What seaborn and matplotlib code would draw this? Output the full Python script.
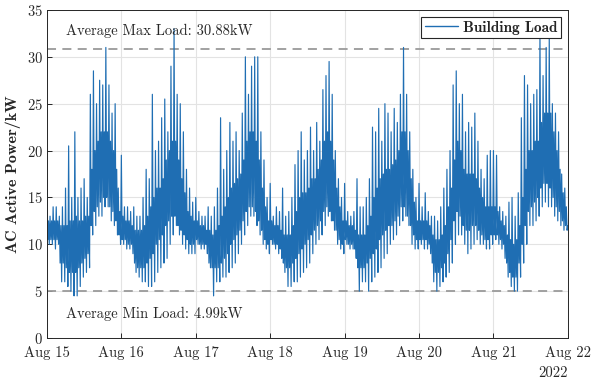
import pandas as pd
import matplotlib
matplotlib.use("Agg")
import matplotlib.pyplot as plt
import matplotlib.dates as mdates
import seaborn as sns

# hourly readings of the building load off the picture (kW):
# spike top, spike bottom, and the upper / lower edge of the dense core band
aug15_high = [17, 13, 14, 14, 13, 14, 16, 20.5, 15, 22, 15, 16, 17, 15, 26, 28.5, 25, 27.5, 27, 31, 27, 24, 25, 16]
aug15_low = [10, 10, 9.5, 10, 6, 6, 5.5, 5, 4.5, 4.5, 5.5, 6.5, 7, 7.5, 11, 12, 13, 13, 14, 14, 12.5, 12, 11, 10]
aug15_core_hi = [12.5, 12.5, 12.5, 12.5, 12, 12, 12, 12.5, 12.5, 13, 12.5, 12.5, 13, 13, 18, 20, 21, 22, 22, 22, 21, 20, 18, 13.5]
aug15_core_lo = [10.5, 10.5, 10.5, 10.5, 8, 8, 7.5, 7, 7, 7, 7.5, 8, 8.5, 9, 12, 13.5, 14, 14.5, 15, 15, 14, 13.5, 12.5, 11]

aug16_high = [19.5, 14, 14, 13.5, 14, 13, 13, 15, 18, 17, 26, 20, 21, 23.5, 25.5, 22, 29, 33, 26, 25, 22, 18, 16, 14.5]
aug16_low = [10, 9.5, 9.5, 9, 7, 6.5, 6, 6, 5.5, 5.5, 6, 7, 7.5, 8, 8.5, 10, 11, 12, 11, 10, 9.5, 9, 9, 9]
aug16_core_hi = [13, 12.5, 12.5, 12, 11.5, 11.5, 11.5, 12, 13, 14, 15, 16, 16, 17, 19, 20, 21, 21, 19, 17, 15.5, 13.5, 13, 12.5]
aug16_core_lo = [10.5, 10.5, 10, 10, 8, 7.5, 7.5, 7.5, 8, 8.5, 9, 10, 10.5, 11, 12, 12.5, 13, 13, 12, 11.5, 11, 10.5, 10, 10]

aug17_high = [15, 13.5, 13, 13, 14, 13, 14, 16, 23.5, 18, 20, 23, 21, 22, 20, 24, 30, 26, 29, 30, 30, 22, 19, 15]
aug17_low = [10, 9.5, 9.5, 9, 7.5, 4.5, 6, 6, 6.5, 6.5, 7, 7.5, 8, 9, 10, 11, 12, 13, 13, 12, 11, 10, 9.5, 9]
aug17_core_hi = [12.5, 12, 12, 11.5, 11.5, 11, 11.5, 12, 13, 14, 15, 16, 16.5, 17, 17.5, 19, 21, 22, 22, 21, 19, 16, 14, 12.5]
aug17_core_lo = [10.5, 10, 10, 10, 8, 7.5, 7.5, 7.5, 8, 8.5, 9, 10, 10.5, 11, 11.5, 12.5, 13.5, 14, 14, 13.5, 12.5, 11.5, 10.5, 10]

aug18_high = [16.5, 13, 14, 13.5, 16, 13, 13.5, 15, 18.5, 20, 22, 19, 20, 22.5, 20, 23, 21, 26.5, 28, 29.5, 26, 20, 17, 15]
aug18_low = [10, 9.5, 9, 8.5, 7, 5.5, 5.5, 6, 6, 6.5, 7, 7.5, 8, 9, 10, 10.5, 11, 12, 13, 12.5, 11.5, 10, 9.5, 9]
aug18_core_hi = [12.5, 12, 12, 11.5, 11, 11, 11, 12, 13.5, 15, 15.5, 15.5, 16, 17, 17, 18, 19, 21, 22, 21, 19, 16, 14, 12.5]
aug18_core_lo = [10.5, 10, 10, 9.5, 8, 7.5, 7.5, 8, 8.5, 9, 9.5, 10, 10.5, 11, 11.5, 12, 12.5, 13.5, 14, 13.5, 12.5, 11.5, 10.5, 10]

aug19_high = [16.5, 13.5, 13, 13.5, 17, 14, 14, 15, 17, 22.5, 22, 24.5, 21, 25, 24, 22, 24.5, 23, 26, 31, 26, 22, 18, 15]
aug19_low = [10, 9.5, 9.5, 8.5, 5, 6, 6, 5, 6, 6.5, 7, 7.5, 8.5, 9, 10, 10.5, 11, 12, 12.5, 13, 12, 10, 9.5, 9.5]
aug19_core_hi = [12.5, 12, 12, 11.5, 11, 11, 11, 12, 13, 15, 16, 17, 17.5, 18, 18, 18.5, 19, 20, 22, 22, 20, 17, 14.5, 12.5]
aug19_core_lo = [10.5, 10, 10, 9.5, 7.5, 7.5, 7.5, 8, 8.5, 9, 9.5, 10.5, 11, 11.5, 12, 12, 12.5, 13, 14, 14, 13, 12, 11, 10.5]

aug20_high = [16.5, 14, 15.5, 13.5, 13, 13, 12.5, 14, 16, 18, 20, 27, 28.5, 25, 26, 22, 23, 22.5, 24, 21, 18, 17, 19.5, 20]
aug20_low = [10, 9.5, 9.5, 9, 6, 5, 5.5, 6, 6.5, 7, 8, 10, 11, 11, 10, 9, 9.5, 10, 10.5, 10, 10, 9.5, 9.5, 10]
aug20_core_hi = [12.5, 12.5, 12.5, 12, 11, 10.5, 10.5, 11, 12, 14, 16, 19, 21, 20, 18, 17.5, 17.5, 17.5, 17, 16, 15, 14, 14, 14]
aug20_core_lo = [10.5, 10.5, 10.5, 10, 8, 7, 7, 7.5, 8, 9, 10.5, 12.5, 13.5, 13, 12, 11.5, 11.5, 12, 12, 11.5, 11, 10.5, 10.5, 11]

aug21_high = [20, 19.5, 14, 13.5, 13, 14.5, 15, 13, 15.5, 23.5, 28, 27, 25, 26, 26.5, 32.5, 28, 31, 32, 25, 24, 22, 17.5, 16]
aug21_low = [10.5, 10, 9.5, 8.5, 6.5, 5.5, 5, 5, 6.5, 8, 10, 12, 12, 12.5, 13, 14, 14.5, 14, 14, 13, 12.5, 12, 11.5, 11.5]
aug21_core_hi = [14, 13.5, 12.5, 12, 11, 10.5, 10, 10.5, 12, 15, 18, 20, 20, 21, 21, 23, 24, 24, 24, 22, 20, 18, 15.5, 14]
aug21_core_lo = [11, 11, 10.5, 10, 8, 7, 6.5, 6.5, 8, 10, 12, 13.5, 14, 14.5, 15, 16, 16.5, 16.5, 16, 15, 14, 13.5, 12.5, 12]

end_load = 12.0

avg_max_load = 30.88
avg_min_load = 4.99

days = pd.date_range("2022-08-15", periods=7, freq="D")
highs = [aug15_high, aug16_high, aug17_high, aug18_high, aug19_high, aug20_high, aug21_high]
lows = [aug15_low, aug16_low, aug17_low, aug18_low, aug19_low, aug20_low, aug21_low]
core_his = [aug15_core_hi, aug16_core_hi, aug17_core_hi, aug18_core_hi, aug19_core_hi, aug20_core_hi, aug21_core_hi]
core_los = [aug15_core_lo, aug16_core_lo, aug17_core_lo, aug18_core_lo, aug19_core_lo, aug20_core_lo, aug21_core_lo]

# 15 min samples: spike top, core low, core high, spike bottom
rows = []
for day, hi, lo, chi, clo in zip(days, highs, lows, core_his, core_los):
    for h in range(24):
        t = day + pd.Timedelta(hours=h)
        for k, v in enumerate([hi[h], clo[h], chi[h], lo[h]]):
            rows.append((t + pd.Timedelta(minutes=15 * k), v))
rows.append((days[-1] + pd.Timedelta(days=1), end_load))
df = pd.DataFrame(rows, columns=["time", "load"])

#%%
sns.set_style("ticks")
plt.rcParams["font.family"] = ["cmr10"]
plt.rcParams["mathtext.fontset"] = "cm"
plt.rcParams["axes.formatter.use_mathtext"] = True
plt.rcParams["font.size"] = 10

fig, ax = plt.subplots(figsize=(5.94, 3.82), dpi=100)
fig.subplots_adjust(left=0.079, right=0.956, bottom=0.115, top=0.974)

sns.lineplot(data=df, x="time", y="load", ax=ax, color="#1f6eb3", lw=0.85,
             estimator=None, label="Building Load")

ax.axhline(avg_max_load, color="#9a9a9a", ls=(0, (5, 3.5)), lw=1.3, zorder=1)
ax.axhline(avg_min_load, color="#9a9a9a", ls=(0, (5, 3.5)), lw=1.3, zorder=1)
ax.text(days[0] + pd.Timedelta(hours=6), 32.8, f"Average Max Load: {avg_max_load:.2f}kW",
        va="center", ha="left", fontsize=10.5)
ax.text(days[0] + pd.Timedelta(hours=6), 2.6, f"Average Min Load: {avg_min_load:.2f}kW",
        va="center", ha="left", fontsize=10.5)

ax.set_xlim(days[0], days[-1] + pd.Timedelta(days=1))
ax.set_ylim(0, 35)
ax.set_yticks(range(0, 36, 5))
ax.xaxis.set_major_locator(mdates.DayLocator())
ax.xaxis.set_major_formatter(mdates.DateFormatter("%b %d"))
ax.text(1.0, -0.108, "2022", transform=ax.transAxes, ha="right", va="center", fontsize=10.5)

ax.grid(True, color="#e3e3e3", lw=0.8)
ax.set_axisbelow(True)
ax.tick_params(direction="in", length=3.5, width=0.7, labelsize=10.5, colors="#262626")
ax.tick_params(axis="x", pad=6)
ax.tick_params(axis="y", pad=3)
for s in ax.spines.values():
    s.set_visible(True)
    s.set_linewidth(0.7)
    s.set_color("#262626")

ax.set_xlabel("")
ax.set_ylabel("AC Active Power/kW", fontfamily="cmb10", fontsize=11.5)

leg = ax.legend(loc="upper right", prop={"family": "cmb10", "size": 11}, frameon=True,
                fancybox=False, edgecolor="#262626", framealpha=1, borderaxespad=0.45,
                handlelength=2.2, handletextpad=0.3, borderpad=0.25)
leg.get_frame().set_linewidth(0.8)
leg.get_lines()[0].set_linewidth(1.0)

plt.savefig("out.png", dpi=100)
